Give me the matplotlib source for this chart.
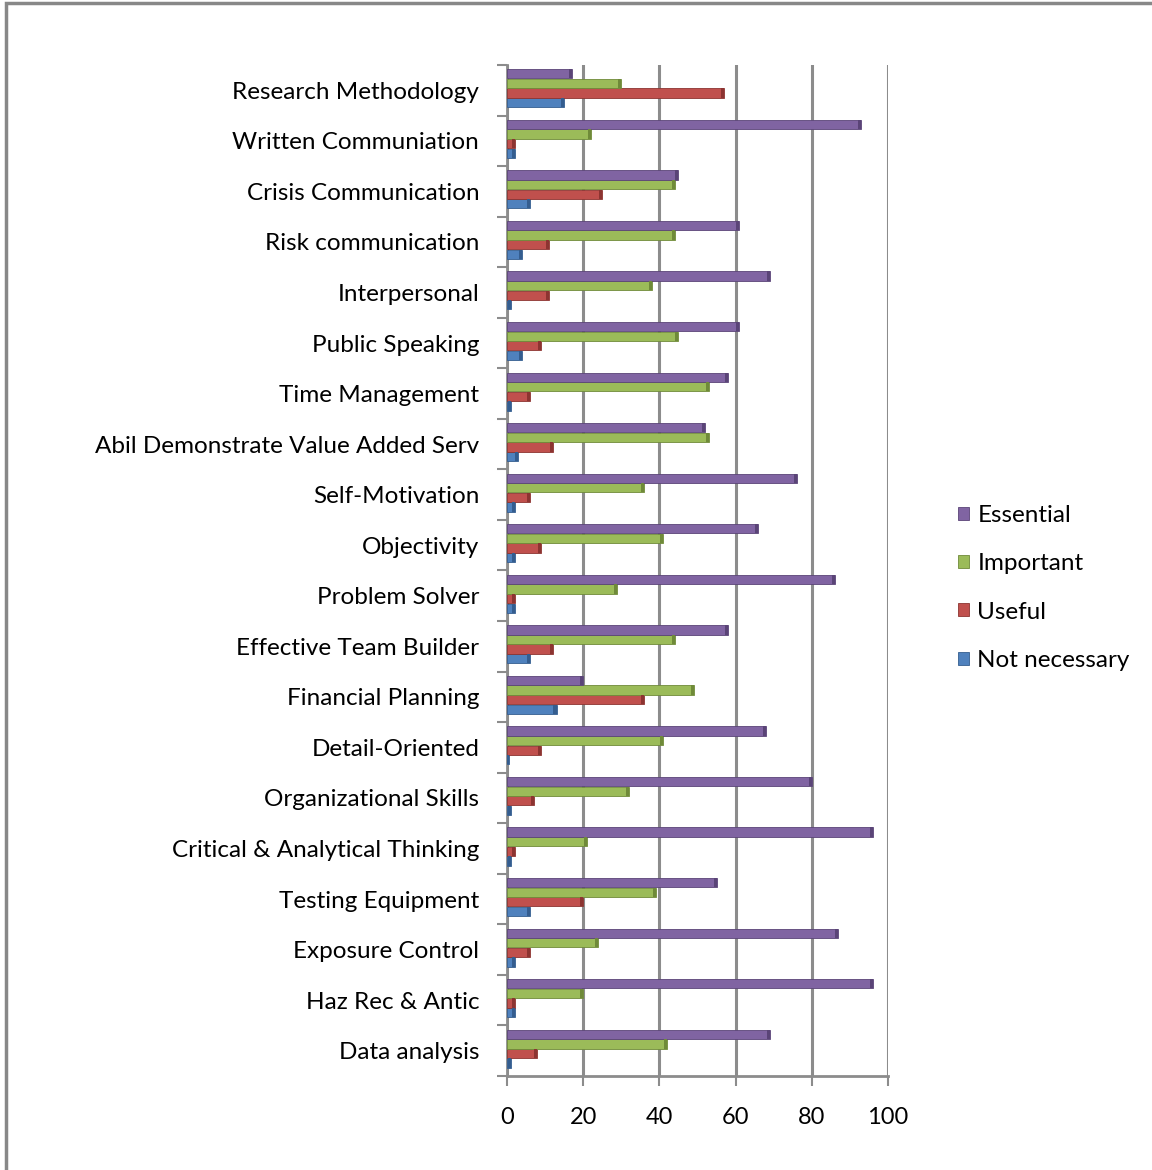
import matplotlib
matplotlib.use('Agg')
import matplotlib.pyplot as plt
from matplotlib.patches import Rectangle
import numpy as np

plt.rcParams['font.family'] = ['Lato', 'DejaVu Sans']

# skills, listed bottom to top
skills = ['Data analysis', 'Haz Rec & Antic', 'Exposure Control', 'Testing Equipment',
          'Critical & Analytical Thinking', 'Organizational Skills', 'Detail-Oriented',
          'Financial Planning', 'Effective Team Builder', 'Problem Solver', 'Objectivity',
          'Self-Motivation', 'Abil Demonstrate Value Added Serv', 'Time Management',
          'Public Speaking', 'Interpersonal', 'Risk communication', 'Crisis Communication',
          'Written Communiation', 'Research Methodology']

not_necessary = [1, 2, 2, 6, 1, 1, 0.5, 13, 6, 2, 2, 2, 3, 1, 4, 1, 4, 6, 2, 15]
useful        = [8, 2, 6, 20, 2, 7, 9, 36, 12, 2, 9, 6, 12, 6, 9, 11, 11, 25, 2, 57]
important     = [42, 20, 24, 39, 21, 32, 41, 49, 44, 29, 41, 36, 53, 53, 45, 38, 44, 44, 22, 30]
essential     = [69, 96, 87, 55, 96, 80, 68, 20, 58, 86, 66, 76, 52, 58, 61, 69, 61, 45, 93, 17]

series = [('Not necessary', not_necessary, '#4F81BD', '#345d8f'),
          ('Useful', useful, '#C0504D', '#8c3431'),
          ('Important', important, '#9BBB59', '#6f8a39'),
          ('Essential', essential, '#8064A2', '#5a4477')]

fig = plt.figure(figsize=(11.52, 11.7), dpi=100)
ax = fig.add_axes([507 / 1152, 1 - 1076 / 1170, 381 / 1152, 1011 / 1170])

y = np.arange(len(skills))
h = 0.19
grid_c = '#8c8c8c'

for i, (name, vals, col, dark) in enumerate(series):
    pos = y - 1.5 * h + i * h + 0.04
    ax.barh(pos, vals, height=h * 0.96, color=col, edgecolor=dark, linewidth=0.6,
            label=name, zorder=3)
    # darker end cap for a bit of depth
    ax.barh(pos, [0.8] * len(vals), left=np.array(vals) - 0.8, height=h * 0.96,
            color=dark, linewidth=0, zorder=4)

ax.set_xlim(0, 100)
ax.set_ylim(-0.5, len(skills) - 0.5)
ax.set_xticks([0, 20, 40, 60, 80, 100])
ax.set_yticks(y)
ax.set_yticklabels(skills)
ax.set_yticks(np.arange(-0.5, len(skills), 1), minor=True)
ax.tick_params(axis='y', which='major', length=0, pad=20, labelsize=17.5)
ax.tick_params(axis='y', which='minor', length=7, color=grid_c, width=1.5)
ax.tick_params(axis='x', length=7, color=grid_c, width=1.5, pad=15, labelsize=17)
ax.xaxis.grid(True, color=grid_c, linewidth=2.2, zorder=0)
ax.set_axisbelow(True)
for s in ['top', 'right']:
    ax.spines[s].set_visible(False)
for s in ['left', 'bottom']:
    ax.spines[s].set_color(grid_c)
    ax.spines[s].set_linewidth(2)

handles, labels = ax.get_legend_handles_labels()
fig.legend(handles[::-1], labels[::-1], loc='center left',
           bbox_to_anchor=(936 / 1152, 1 - 588 / 1170), frameon=False,
           fontsize=17.5, handlelength=0.45, handleheight=0.45, handletextpad=0.35,
           labelspacing=1.12)

fig.patches.append(Rectangle((6 / 1152, -0.1), 1.2, 1.1 - 3 / 1170, transform=fig.transFigure,
                             fill=False, edgecolor='#888888', linewidth=2.5))

fig.savefig('out.png', dpi=100, facecolor='white')
